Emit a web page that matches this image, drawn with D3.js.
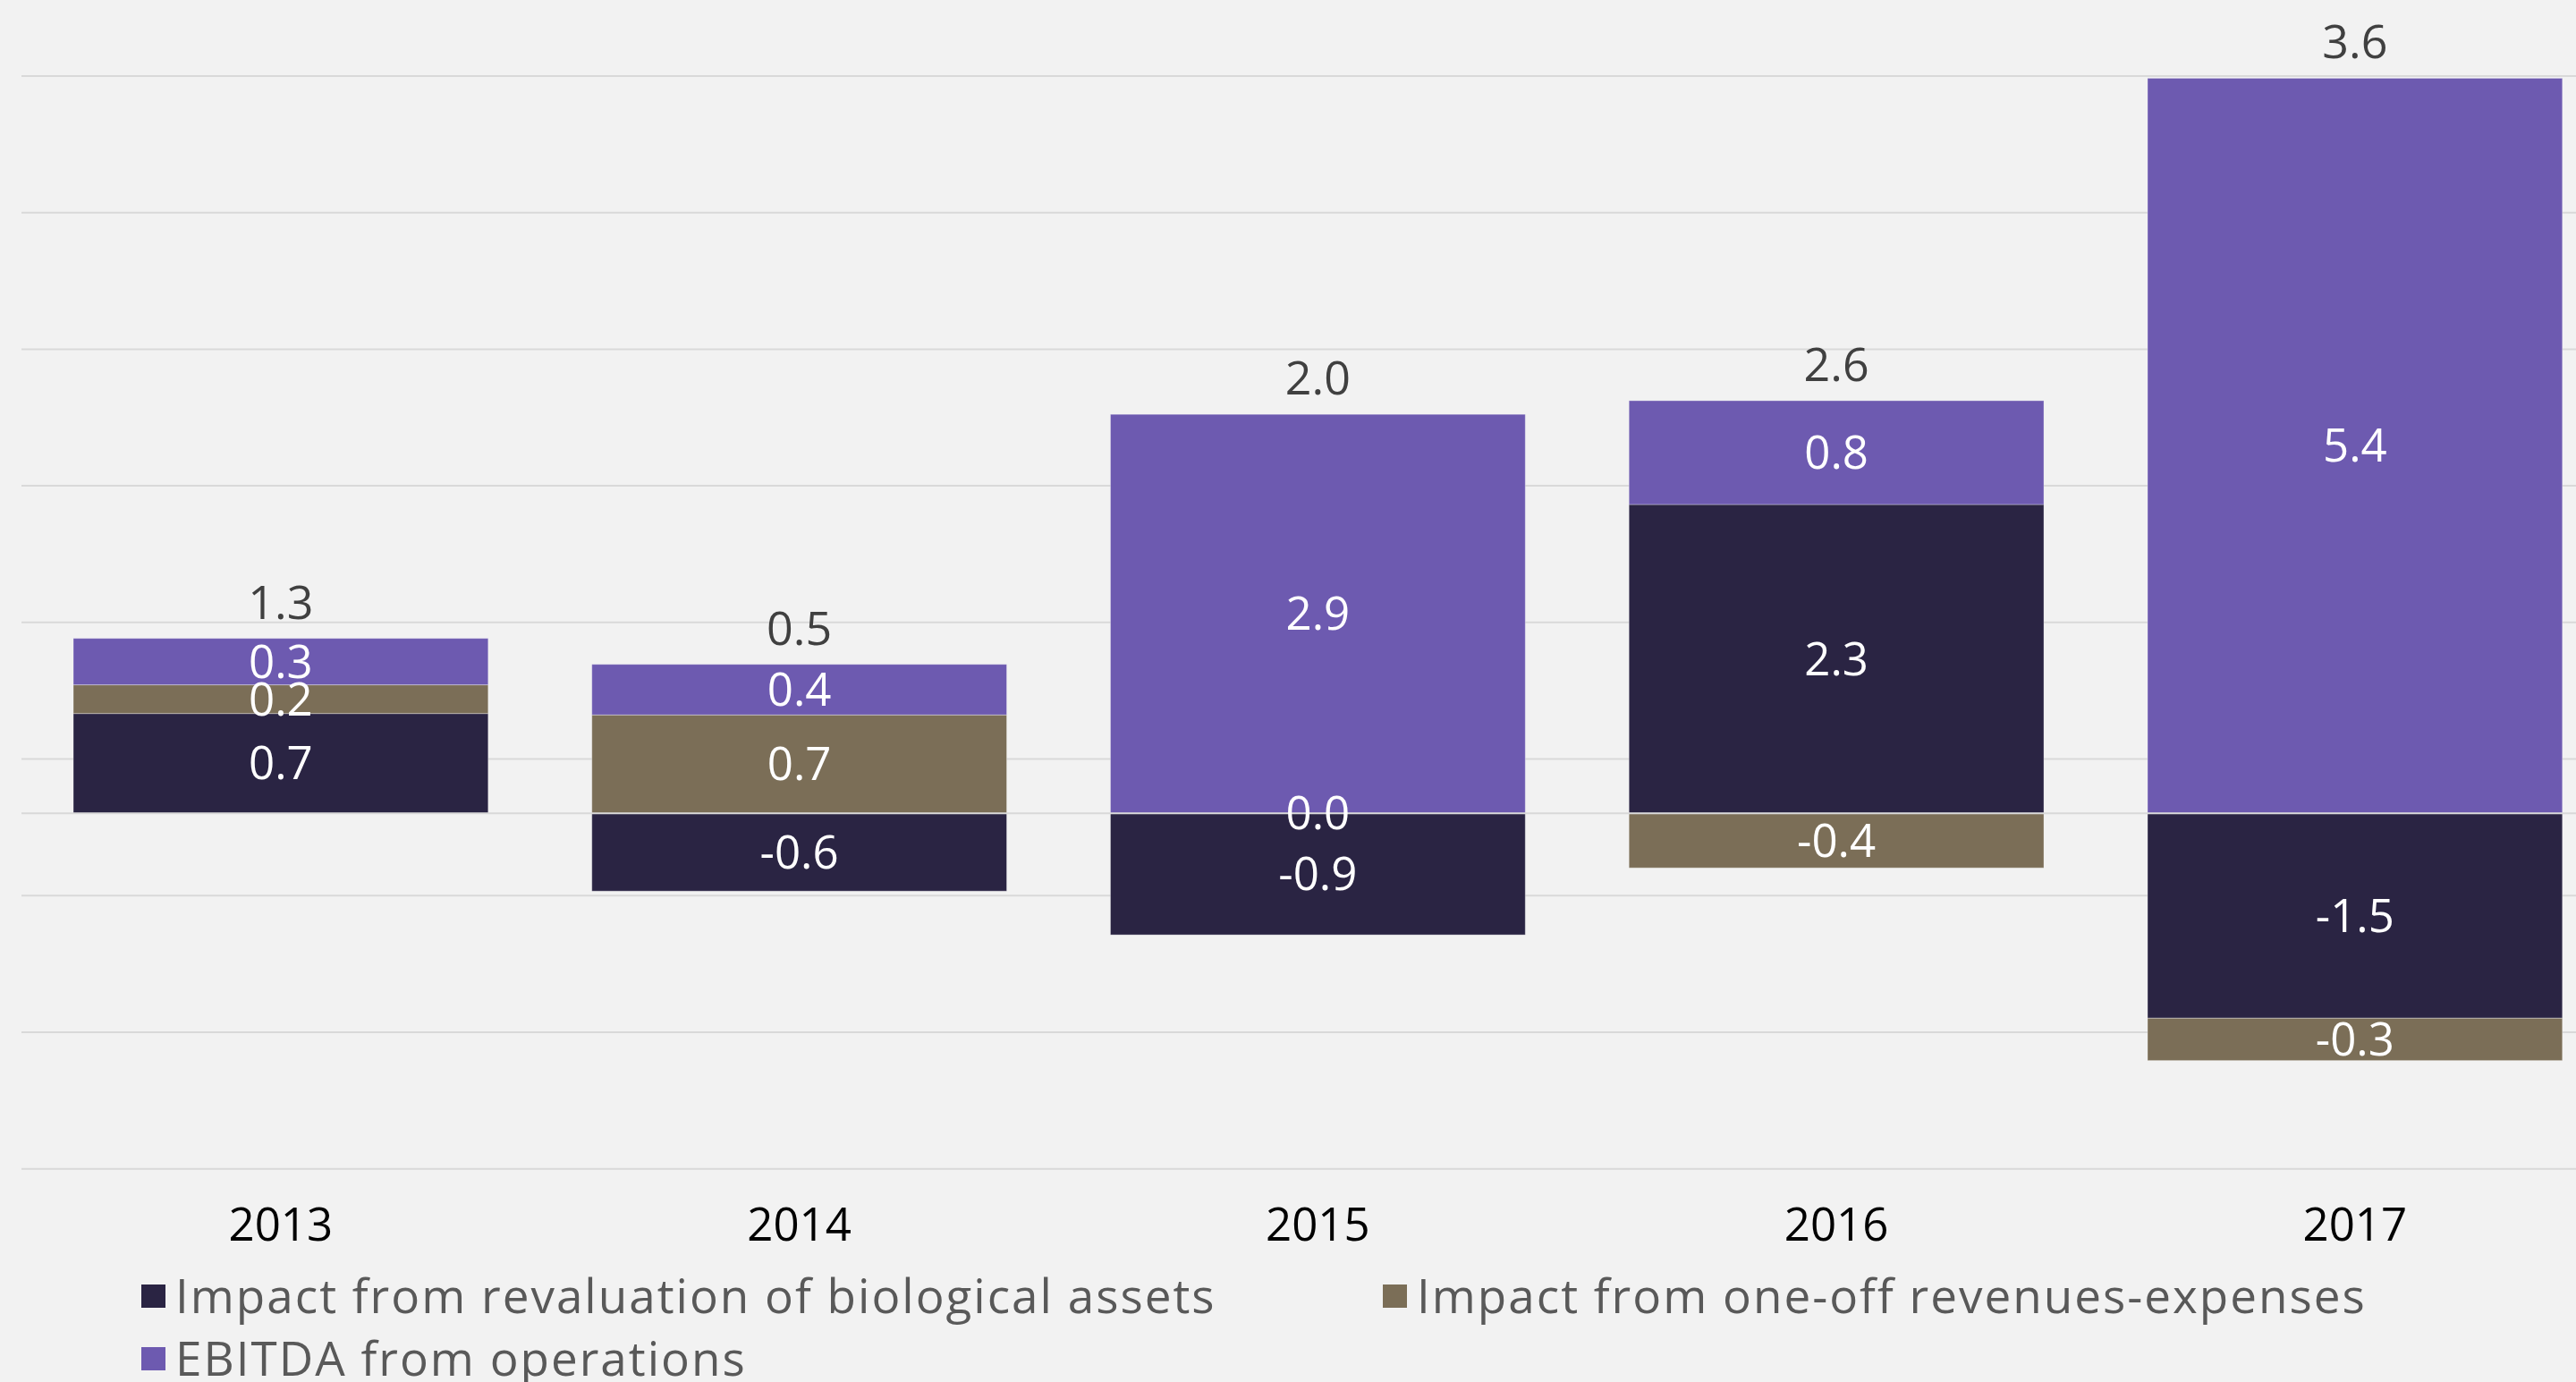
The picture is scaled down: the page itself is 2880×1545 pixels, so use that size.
<!DOCTYPE html>
<html>
<head>
<meta charset="utf-8">
<script src="https://cdn.jsdelivr.net/npm/d3@7"></script>
<style>
  html, body { margin: 0; padding: 0; background: #F2F2F2; overflow: hidden; }
  svg { display: block; }
  text { font-family: "Open Sans", Lato, sans-serif; }
</style>
</head>
<body>
<svg id="chart" width="2880" height="1545"></svg>
<script>
// ---- data ----
const years = ["2013", "2014", "2015", "2016", "2017"];
const seriesNames = [
  "Impact from revaluation of biological assets",
  "Impact from one-off revenues-expenses",
  "EBITDA from operations"
];
const revaluation = [0.73, -0.57, -0.89, 2.26, -1.50];
const oneOff      = [0.21, 0.72, 0.00, -0.40, -0.31];
const ebitdaOps   = [0.34, 0.37, 2.92, 0.76, 5.38];
const gridTicks   = [-2.6, -1.6, -0.6, 0.4, 1.4, 2.4, 3.4, 4.4, 5.4];
const seriesColors = ["#2A2443", "#7B6E57", "#6D5AB0"];

// ---- layout ----
const svg = d3.select("#chart");
const W = 2880, H = 1545;
svg.append("rect").attr("width", W).attr("height", H).attr("fill", "#F2F2F2");

const plotLeft = 24, plotRight = 2922.75;
const x = d3.scaleBand().domain(years).range([plotLeft, plotRight])
  .paddingInner(0.2).paddingOuter(0.1);
const y = d3.scaleLinear().domain([-2.6, 5.4]).range([1306.3, 84.4]);

// gridlines
const grid = svg.append("g").attr("transform", `translate(${plotLeft},0)`)
  .call(d3.axisLeft(y).tickValues(gridTicks).tickSize(-(plotRight - plotLeft)).tickFormat(""));
grid.select(".domain").remove();
grid.selectAll(".tick line").attr("stroke", "#D9D9D9").attr("stroke-width", 2);

// stacked data
const keys = ["rev", "one", "ebitda"];
const rows = years.map((yr, i) => ({ year: yr, rev: revaluation[i], one: oneOff[i], ebitda: ebitdaOps[i] }));
const stack = d3.stack().keys(keys).offset(d3.stackOffsetDiverging)(rows);

const layers = svg.append("g").selectAll("g").data(stack).join("g")
  .attr("fill", (d, i) => seriesColors[i]);

layers.selectAll("rect").data(d => d).join("rect")
  .attr("x", d => x(d.data.year))
  .attr("width", x.bandwidth())
  .attr("y", d => y(Math.max(d[0], d[1])))
  .attr("height", d => Math.abs(y(d[0]) - y(d[1])))
  .attr("stroke", "rgba(255,255,255,0.35)")
  .attr("stroke-width", 1);

// zero axis line
svg.append("line")
  .attr("x1", plotLeft).attr("x2", plotRight)
  .attr("y1", y(0)).attr("y2", y(0))
  .attr("stroke", "#D9D9D9").attr("stroke-width", 2);

// segment labels
const fmt = v => v.toFixed(1);
svg.append("g").selectAll("g").data(stack).join("g")
  .selectAll("text").data(d => d.map(s => ({ s, key: d.key }))).join("text")
  .attr("x", d => x(d.s.data.year) + x.bandwidth() / 2)
  .attr("y", d => (y(d.s[0]) + y(d.s[1])) / 2 + 18)
  .attr("text-anchor", "middle")
  .attr("fill", "#FFFFFF")
  .attr("font-size", 51)
  .text(d => fmt(d.s.data[d.key]));

// total labels above positive stack
const totals = years.map((yr, i) => revaluation[i] + oneOff[i] + ebitdaOps[i]);
const posTop = years.map((yr, i) => d3.max(stack, layer => layer[i][1]));
svg.append("g").selectAll("text").data(years).join("text")
  .attr("x", d => x(d) + x.bandwidth() / 2)
  .attr("y", (d, i) => y(posTop[i]) - 22)
  .attr("text-anchor", "middle")
  .attr("fill", "#404040")
  .attr("font-size", 52)
  .text((d, i) => fmt(totals[i]));

// x axis labels
const xa = svg.append("g").attr("transform", `translate(0,${1387})`)
  .call(d3.axisBottom(x).tickSize(0).tickPadding(0));
xa.select(".domain").remove();
xa.selectAll("text").attr("font-size", 51).attr("fill", "#000000")
  .attr("dy", 0).attr("y", 0).style("font-family", "'Open Sans', sans-serif");

// legend
const legendPos = [
  { mx: 158, my: 1436, tx: 196, ty: 1468 },
  { mx: 1546, my: 1436, tx: 1584, ty: 1468 },
  { mx: 158, my: 1506, tx: 196, ty: 1538 }
];
const lg = svg.append("g").selectAll("g").data(seriesNames).join("g");
lg.append("rect")
  .attr("x", (d, i) => legendPos[i].mx).attr("y", (d, i) => legendPos[i].my)
  .attr("width", 27).attr("height", 26)
  .attr("fill", (d, i) => seriesColors[i]);
lg.append("text")
  .attr("x", (d, i) => legendPos[i].tx).attr("y", (d, i) => legendPos[i].ty)
  .attr("fill", "#595959").attr("font-size", 53)
  .attr("letter-spacing", 2)
  .text(d => d);
</script>
</body>
</html>
